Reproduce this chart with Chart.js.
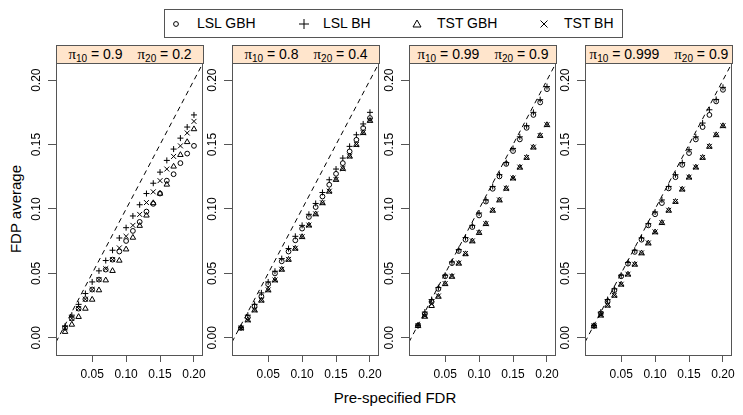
<!DOCTYPE html>
<html>
<head>
<meta charset="utf-8">
<script src="https://cdn.jsdelivr.net/npm/chart.js@4.4.0/dist/chart.umd.min.js"></script>
<style>
    body { margin: 0; background: #fff; font-family: "Liberation Sans", Arial, sans-serif; }
    #wrap { position: relative; width: 743px; height: 415px; overflow: hidden; }
    #wrap canvas { position: absolute; left: 0; top: 0; }
    .strip { position: absolute; top: 45px; height: 19px; background: #ffe5cc; border: 1px solid #555;
             box-sizing: border-box; text-align: center; font-size: 14px; line-height: 17px; white-space: nowrap; }
    .strip .pi { font-family: "Liberation Serif", serif; font-size: 15px; }
    .strip sub { font-size: 10px; vertical-align: -3px; line-height: 0; }
    .strip .gap { display: inline-block; width: 15px; }
    #legend { position: absolute; left: 164px; top: 9px; width: 459px; height: 29px; border: 1px solid #555; box-sizing: border-box; }
    .lg { position: absolute; top: 5px; font-size: 14px; line-height: 17px; white-space: nowrap; }
    .sym { position: absolute; }
    #xtitle { position: absolute; left: 0; width: 790px; top: 389px; text-align: center; font-size: 15px; }
    #ytitle { position: absolute; left: 15px; top: 209px; font-size: 15px; white-space: nowrap;
              transform: translate(-50%, -50%) rotate(-90deg); }
</style>
</head>
<body>
<div id="wrap">
    <div id="legend">
        <svg class="sym" style="left:6px;top:9px" width="10" height="10"><circle cx="5" cy="5" r="2.4" fill="none" stroke="#000"/></svg>
        <span class="lg" style="left:32px">LSL GBH</span>
        <svg class="sym" style="left:133px;top:8px" width="12" height="12"><path d="M1 6H11M6 1V11" stroke="#000" fill="none"/></svg>
        <span class="lg" style="left:158px">LSL BH</span>
        <svg class="sym" style="left:246px;top:8px" width="12" height="12"><path d="M6 2L10 9H2Z" stroke="#000" fill="none"/></svg>
        <span class="lg" style="left:272px">TST GBH</span>
        <svg class="sym" style="left:373px;top:8px" width="12" height="12"><path d="M2.5 2.5L9.5 9.5M9.5 2.5L2.5 9.5" stroke="#000" fill="none"/></svg>
        <span class="lg" style="left:399px">TST BH</span>
    </div>
    <div id="xtitle">Pre-specified FDR</div>
    <div id="ytitle">FDP average</div>
</div>
<script>
// 预设 FDR 水平
var fdr = [0.01, 0.02, 0.03, 0.04, 0.05, 0.06, 0.07, 0.08, 0.09, 0.10,
           0.11, 0.12, 0.13, 0.14, 0.15, 0.16, 0.17, 0.18, 0.19, 0.20];
var xTicks = [0.05, 0.10, 0.15, 0.20];
var yTicks = [0.00, 0.05, 0.10, 0.15, 0.20];
var pi10Values = ['0.9', '0.8', '0.99', '0.999'];
var pi20Values = ['0.2', '0.4', '0.9', '0.9'];

// panel 1: pi10 = 0.9, pi20 = 0.2
var lslGbh1 = [0.0078, 0.015, 0.0227, 0.030, 0.0375, 0.0452, 0.053, 0.0607, 0.067, 0.0752, 0.083, 0.090, 0.098, 0.104, 0.112, 0.122, 0.127, 0.1356, 0.143, 0.149];
var lslBh1 = [0.009, 0.0176, 0.026, 0.0344, 0.0434, 0.052, 0.060, 0.068, 0.0775, 0.0855, 0.0946, 0.1033, 0.112, 0.120, 0.1286, 0.1377, 0.1465, 0.155, 0.1636, 0.173];
var tstGbh1 = [0.0047, 0.0103, 0.0163, 0.0227, 0.0297, 0.037, 0.0447, 0.052, 0.060, 0.0687, 0.0778, 0.087, 0.095, 0.1046, 0.112, 0.119, 0.133, 0.142, 0.152, 0.162];
var tstBh1 = [0.0078, 0.015, 0.0227, 0.030, 0.0375, 0.0452, 0.0537, 0.0607, 0.0698, 0.0788, 0.0873, 0.0958, 0.105, 0.1133, 0.122, 0.131, 0.1408, 0.149, 0.159, 0.168];

// panel 2: pi10 = 0.8, pi20 = 0.4
var lslGbh2 = [0.0078, 0.0158, 0.0245, 0.0323, 0.0416, 0.050, 0.0594, 0.067, 0.0757, 0.0848, 0.0938, 0.1015, 0.1097, 0.1188, 0.1273, 0.1356, 0.1447, 0.1537, 0.1628, 0.1706];
var lslBh2 = [0.0082, 0.0176, 0.026, 0.0349, 0.0434, 0.0517, 0.0615, 0.0693, 0.0788, 0.0873, 0.0959, 0.1043, 0.1128, 0.1227, 0.131, 0.1395, 0.1486, 0.1576, 0.166, 0.175];
var tstGbh2 = [0.0075, 0.0137, 0.0214, 0.029, 0.037, 0.0447, 0.053, 0.0607, 0.0693, 0.0783, 0.0873, 0.096, 0.1046, 0.1136, 0.1227, 0.1312, 0.1408, 0.1498, 0.159, 0.1685];
var tstBh2 = [0.0076, 0.0139, 0.0216, 0.0292, 0.0372, 0.0449, 0.0532, 0.0609, 0.0695, 0.0785, 0.0875, 0.0962, 0.1048, 0.1138, 0.1229, 0.1314, 0.141, 0.150, 0.1592, 0.1687];

// panel 3: pi10 = 0.99, pi20 = 0.9
var lslGbh3 = [0.0095, 0.0185, 0.0279, 0.038, 0.0478, 0.058, 0.0674, 0.0762, 0.086, 0.095, 0.1058, 0.1157, 0.1253, 0.135, 0.145, 0.154, 0.163, 0.173, 0.1827, 0.193];
var lslBh3 = [0.0098, 0.020, 0.0297, 0.039, 0.0486, 0.0589, 0.0685, 0.0778, 0.0873, 0.0969, 0.107, 0.1175, 0.1266, 0.136, 0.147, 0.156, 0.1646, 0.175, 0.1848, 0.195];
var tstGbh3 = [0.0093, 0.0165, 0.0248, 0.032, 0.0418, 0.0475, 0.0577, 0.065, 0.075, 0.0815, 0.0884, 0.0988, 0.1068, 0.1158, 0.1238, 0.1322, 0.1398, 0.1478, 0.1568, 0.1652];
var tstBh3 = [0.0095, 0.017, 0.0265, 0.0325, 0.0421, 0.0478, 0.058, 0.0654, 0.0752, 0.0817, 0.0886, 0.099, 0.107, 0.116, 0.124, 0.1325, 0.140, 0.148, 0.157, 0.1654];

// panel 4: pi10 = 0.999, pi20 = 0.9
var lslGbh4 = [0.0093, 0.019, 0.0284, 0.037, 0.0478, 0.0576, 0.0667, 0.0762, 0.0873, 0.0959, 0.1046, 0.116, 0.1247, 0.1343, 0.1434, 0.154, 0.1636, 0.173, 0.1835, 0.1925];
var lslBh4 = [0.0095, 0.020, 0.0297, 0.038, 0.0486, 0.0584, 0.068, 0.0775, 0.0886, 0.0977, 0.107, 0.1175, 0.1266, 0.136, 0.146, 0.156, 0.1667, 0.177, 0.185, 0.1944];
var tstGbh4 = [0.0091, 0.0174, 0.0251, 0.0328, 0.0414, 0.0492, 0.0569, 0.0657, 0.0734, 0.082, 0.0892, 0.0988, 0.1056, 0.1152, 0.1245, 0.1323, 0.1398, 0.1484, 0.1574, 0.1644];
var tstBh4 = [0.0093, 0.0176, 0.0253, 0.033, 0.0416, 0.0494, 0.0571, 0.0659, 0.0736, 0.0822, 0.0894, 0.099, 0.1058, 0.1154, 0.1247, 0.1325, 0.140, 0.1486, 0.1576, 0.1646];

var panels = [
    [lslGbh1, lslBh1, tstGbh1, tstBh1],
    [lslGbh2, lslBh2, tstGbh2, tstBh2],
    [lslGbh3, lslBh3, tstGbh3, tstBh3],
    [lslGbh4, lslBh4, tstGbh4, tstBh4]
];

// 布局
var W = 743, H = 415;
var panelLeft0 = 56, panelStep = 176.33, panelW = 147;
var panelTop = 63, panelBottom = 355;
var xMin = -0.0033, xMax = 0.2133, yMin = -0.0133, yMax = 0.2133;
var yAxisW = 30, xAxisH = 40;
var axisColor = '#555';
var fontFamily = '"Liberation Sans", Arial, sans-serif';

function toPoints(ys) {
    return ys.map(function (y, i) { return { x: fdr[i], y: y }; });
}

var panelBox = {
    id: 'panelBox',
    afterDraw: function (chart) {
        var ctx = chart.ctx;
        var a = chart.chartArea;
        var ys = chart.scales.y;
        ctx.save();
        ctx.strokeStyle = axisColor;
        ctx.lineWidth = 1;
        ctx.strokeRect(Math.round(a.left) + 0.5, Math.round(a.top) + 0.5,
                       Math.round(a.right - a.left) - 1, Math.round(a.bottom - a.top));
        // y 轴标签 (竖排)
        ctx.fillStyle = '#000';
        ctx.font = '12px ' + fontFamily;
        ctx.textAlign = 'center';
        ctx.textBaseline = 'middle';
        yTicks.forEach(function (v) {
            ctx.save();
            ctx.translate(a.left - 19, ys.getPixelForValue(v));
            ctx.rotate(-Math.PI / 2);
            ctx.fillText(v.toFixed(2), 0, 0);
            ctx.restore();
        });
        ctx.restore();
    }
};

function makeSymbol(label, data, style, radius) {
    return {
        label: label,
        data: toPoints(data),
        pointStyle: style,
        pointRadius: radius,
        pointBorderWidth: 1,
        pointBorderColor: '#000',
        pointBackgroundColor: 'rgba(0,0,0,0)',
        showLine: false
    };
}

var wrap = document.getElementById('wrap');

panels.forEach(function (series, i) {
    var left = Math.round(panelLeft0 + i * panelStep);

    var strip = document.createElement('div');
    strip.className = 'strip';
    strip.style.left = left + 'px';
    strip.style.width = (panelW + 1) + 'px';
    strip.innerHTML = '<span class="pi">\u03c0</span><sub>10</sub> = ' + pi10Values[i] +
        '<span class="gap"></span><span class="pi">\u03c0</span><sub>20</sub> = ' + pi20Values[i];
    wrap.appendChild(strip);

    var canvas = document.createElement('canvas');
    canvas.width = W;
    canvas.height = H;
    wrap.appendChild(canvas);

    new Chart(canvas, {
        type: 'scatter',
        data: {
            datasets: [
                makeSymbol('LSL GBH', series[0], 'circle', 2.4),
                makeSymbol('LSL BH', series[1], 'cross', 3),
                makeSymbol('TST GBH', series[2], 'triangle', 3.2),
                makeSymbol('TST BH', series[3], 'crossRot', 3.5),
                {
                    type: 'line',
                    label: 'y = x',
                    data: [{ x: xMin, y: xMin }, { x: xMax, y: xMax }],
                    borderColor: '#000',
                    borderWidth: 1,
                    borderDash: [5, 4],
                    pointRadius: 0,
                    fill: false
                }
            ]
        },
        options: {
            responsive: false,
            animation: false,
            events: [],
            layout: {
                padding: {
                    left: left - yAxisW,
                    top: panelTop,
                    right: W - left - panelW,
                    bottom: H - panelBottom - xAxisH
                }
            },
            plugins: {
                legend: { display: false },
                tooltip: { enabled: false }
            },
            scales: {
                x: {
                    type: 'linear',
                    min: xMin,
                    max: xMax,
                    afterBuildTicks: function (s) {
                        s.ticks = xTicks.map(function (v) { return { value: v }; });
                    },
                    afterFit: function (s) {
                        s.height = xAxisH;
                        s.paddingLeft = 0;
                        s.paddingRight = 0;
                    },
                    grid: { drawOnChartArea: false, tickLength: 7, color: axisColor },
                    border: { display: false },
                    ticks: {
                        autoSkip: false,
                        maxRotation: 0,
                        padding: 5,
                        color: '#000',
                        font: { size: 12, family: fontFamily },
                        callback: function (v) { return v.toFixed(2); }
                    }
                },
                y: {
                    type: 'linear',
                    min: yMin,
                    max: yMax,
                    afterBuildTicks: function (s) {
                        s.ticks = yTicks.map(function (v) { return { value: v }; });
                    },
                    afterFit: function (s) {
                        s.width = yAxisW;
                        s.paddingTop = 0;
                        s.paddingBottom = 0;
                    },
                    grid: { drawOnChartArea: false, tickLength: 8, color: axisColor },
                    border: { display: false },
                    ticks: { display: false }
                }
            }
        },
        plugins: [panelBox]
    });
});
</script>
</body>
</html>
